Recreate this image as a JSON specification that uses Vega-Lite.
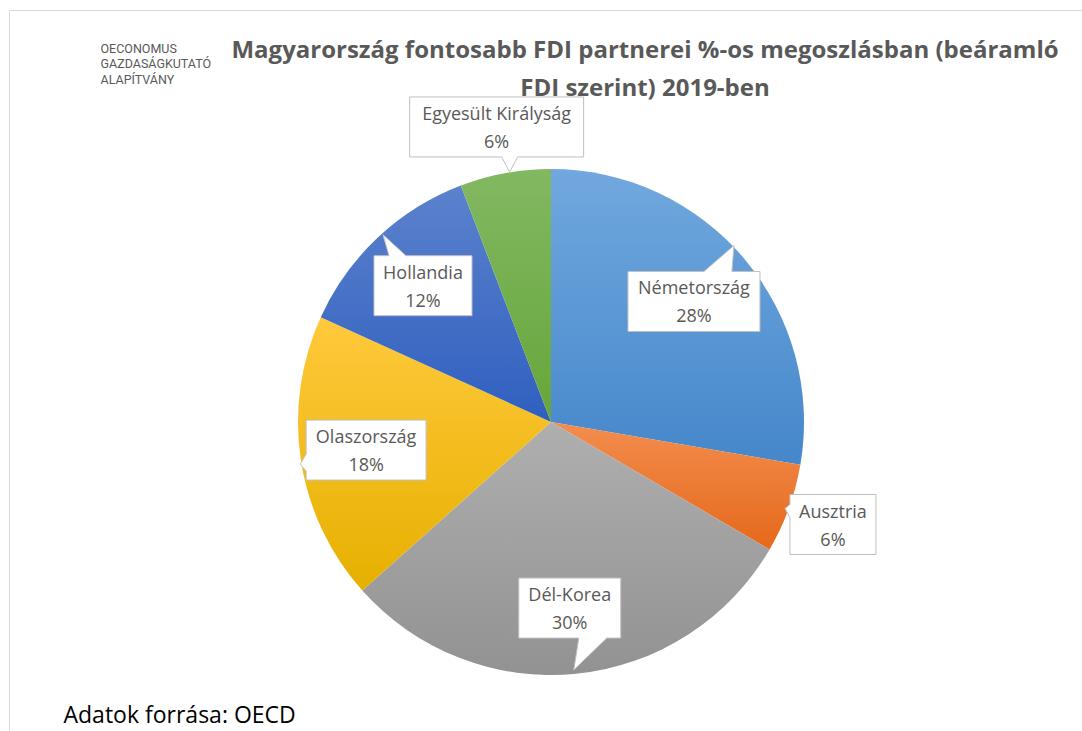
{
  "$schema": "https://vega.github.io/schema/vega-lite/v6.json",
  "autosize": "none",
  "padding": {"left": 9, "top": 10, "right": 0, "bottom": 0},
  "width": 1084,
  "height": 824,
  "background": "white",
  "config": {"view": {"stroke": "#d9d9d9", "strokeWidth": 1}},
  "title": {
    "text": ["Magyarország fontosabb FDI partnerei %-os megoszlásban (beáramló", "FDI szerint) 2019-ben"],
    "anchor": "middle",
    "frame": "group",
    "dx": 94,
    "offset": -91,
    "baseline": "top",
    "font": "Open Sans",
    "fontSize": 24,
    "fontWeight": "bold",
    "color": "#595959",
    "lineHeight": 38
  },
  "data": {
    "values": [
      {"orszag": "Németország", "v": 0.277},
      {"orszag": "Ausztria", "v": 0.057},
      {"orszag": "Dél-Korea", "v": 0.300},
      {"orszag": "Olaszország", "v": 0.184},
      {"orszag": "Hollandia", "v": 0.124},
      {"orszag": "Egyesült Királyság", "v": 0.058}
    ]
  },
  "transform": [
    {"window": [{"op": "row_number", "as": "rn"}]},
    {"joinaggregate": [{"op": "sum", "field": "v", "as": "tot"}]},
    {"window": [{"op": "sum", "field": "v", "as": "cum"}], "sort": [{"field": "rn"}], "frame": [null, 0]},
    {"calculate": "(datum.cum - datum.v) / datum.tot", "as": "t0"},
    {"calculate": "datum.cum / datum.tot", "as": "t1"},
    {"calculate": "(datum.cum - datum.v / 2) / datum.tot * 2 * PI", "as": "mid"},
    {"calculate": "datum.v / datum.tot < 0.1 ? 300 : 187", "as": "ri"},
    {"calculate": "datum.ri * sin(datum.mid)", "as": "px"},
    {"calculate": "datum.ri * cos(datum.mid)", "as": "py"},
    {"calculate": "datum.orszag + '\\n' + format(datum.v / datum.tot, '.0%')", "as": "lbl"}
  ],
  "layer": [
    {
      "transform": [{"filter": "datum.orszag === 'Németország'"}],
      "mark": {"type": "arc", "outerRadius": 253, "color": {"gradient": "linear", "x1": 0, "y1": 0, "x2": 0, "y2": 1, "stops": [{"offset": 0, "color": "#71a8de"}, {"offset": 1, "color": "#4587cb"}]}},
      "encoding": {
        "theta": {"field": "t0", "type": "quantitative", "stack": null, "scale": {"domain": [0, 1]}},
        "theta2": {"field": "t1"}
      }
    },
    {
      "transform": [{"filter": "datum.orszag === 'Ausztria'"}],
      "mark": {"type": "arc", "outerRadius": 253, "color": {"gradient": "linear", "x1": 0, "y1": 0, "x2": 0, "y2": 1, "stops": [{"offset": 0, "color": "#f38d4f"}, {"offset": 1, "color": "#e5691a"}]}},
      "encoding": {
        "theta": {"field": "t0", "type": "quantitative", "stack": null, "scale": {"domain": [0, 1]}},
        "theta2": {"field": "t1"}
      }
    },
    {
      "transform": [{"filter": "datum.orszag === 'Dél-Korea'"}],
      "mark": {"type": "arc", "outerRadius": 253, "color": {"gradient": "linear", "x1": 0, "y1": 0, "x2": 0, "y2": 1, "stops": [{"offset": 0, "color": "#afafaf"}, {"offset": 1, "color": "#929292"}]}},
      "encoding": {
        "theta": {"field": "t0", "type": "quantitative", "stack": null, "scale": {"domain": [0, 1]}},
        "theta2": {"field": "t1"}
      }
    },
    {
      "transform": [{"filter": "datum.orszag === 'Olaszország'"}],
      "mark": {"type": "arc", "outerRadius": 253, "color": {"gradient": "linear", "x1": 0, "y1": 0, "x2": 0, "y2": 1, "stops": [{"offset": 0, "color": "#ffc93c"}, {"offset": 1, "color": "#e6b000"}]}},
      "encoding": {
        "theta": {"field": "t0", "type": "quantitative", "stack": null, "scale": {"domain": [0, 1]}},
        "theta2": {"field": "t1"}
      }
    },
    {
      "transform": [{"filter": "datum.orszag === 'Hollandia'"}],
      "mark": {"type": "arc", "outerRadius": 253, "color": {"gradient": "linear", "x1": 0, "y1": 0, "x2": 0, "y2": 1, "stops": [{"offset": 0, "color": "#5c82cd"}, {"offset": 1, "color": "#2f5fbf"}]}},
      "encoding": {
        "theta": {"field": "t0", "type": "quantitative", "stack": null, "scale": {"domain": [0, 1]}},
        "theta2": {"field": "t1"}
      }
    },
    {
      "transform": [{"filter": "datum.orszag === 'Egyesült Királyság'"}],
      "mark": {"type": "arc", "outerRadius": 253, "color": {"gradient": "linear", "x1": 0, "y1": 0, "x2": 0, "y2": 1, "stops": [{"offset": 0, "color": "#82b862"}, {"offset": 1, "color": "#66a63a"}]}},
      "encoding": {
        "theta": {"field": "t0", "type": "quantitative", "stack": null, "scale": {"domain": [0, 1]}},
        "theta2": {"field": "t1"}
      }
    },
    {
      "encoding": {
        "x": {
          "field": "px",
          "type": "quantitative",
          "scale": {"domain": [-542, 542], "nice": false, "zero": false},
          "axis": {
            "labels": false, "ticks": false, "domain": false, "grid": false,
            "title": "Adatok forrása: OECD",
            "titleX": 54, "titleY": -112,
            "titleAlign": "left", "titleAnchor": null, "titleBaseline": "alphabetic",
            "titleFont": "Open Sans", "titleFontSize": 23, "titleFontWeight": "normal", "titleColor": "#000000"
          }
        },
        "y": {
          "field": "py",
          "type": "quantitative",
          "scale": {"domain": [-412, 412], "nice": false, "zero": false},
          "axis": {
            "labels": false, "ticks": false, "domain": false, "grid": false,
            "title": ["OECONOMUS", "GAZDASÁGKUTATÓ", "ALAPÍTVÁNY"],
            "titleX": 91, "titleY": 38, "titleAngle": 0,
            "titleAlign": "left", "titleAnchor": null, "titleBaseline": "middle",
            "titleFont": "Roboto", "titleFontSize": 12.5, "titleFontWeight": "normal", "titleColor": "#595959",
            "titleLineHeight": 15.5
          }
        }
      },
      "layer": [
        {
          "mark": {"type": "point", "filled": true, "fill": "white", "stroke": "#bfbfbf", "strokeWidth": 1, "opacity": 1, "fillOpacity": 1, "size": 4},
          "encoding": {
            "shape": {
              "field": "orszag",
              "type": "nominal",
              "scale": {
                "domain": ["Németország", "Ausztria", "Dél-Korea", "Olaszország", "Hollandia", "Egyesült Királyság"],
                "range": [
                  "M-66,-30L10,-30L40,-56L38,-30L66,-30L66,30L-66,30Z",
                  "M-43,-30L43,-30L43,30L-43,30L-43,-7L-48,-16L-43,-20Z",
                  "M-51,-30L51,-30L51,30L37,30L4,62L9,30L-51,30Z",
                  "M-60,-30L60,-30L60,30L-60,30L-60,21L-66,14L-60,4Z",
                  "M-49,-30L-34,-30L-40,-51L-17,-30L49,-30L49,30L-49,30Z",
                  "M-87,-30L87,-30L87,30L21,30L13,45L5,30L-87,30Z"
                ]
              },
              "legend": null
            }
          }
        },
        {
          "mark": {"type": "text", "font": "Open Sans", "fontSize": 18, "lineHeight": 28, "color": "#595959", "lineBreak": "\n", "baseline": "middle", "align": "center", "dy": -12},
          "encoding": {
            "text": {"field": "lbl", "type": "nominal"}
          }
        }
      ]
    }
  ]
}
